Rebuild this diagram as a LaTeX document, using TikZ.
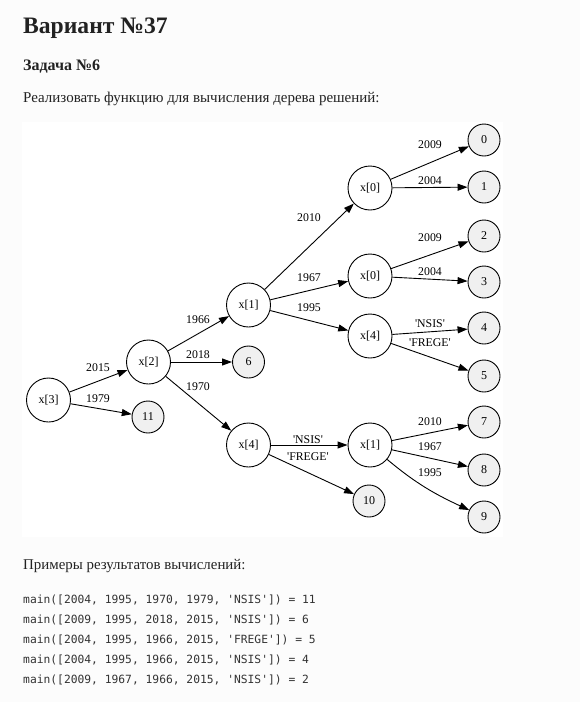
\documentclass[tikz,border=0pt]{standalone}
\usepackage{fontspec}
\setmainfont{Liberation Serif}
\setmonofont{DejaVu Sans Mono}
\newfontfamily\graphfont{Liberation Serif}
\usetikzlibrary{arrows.meta}
\definecolor{pagebg}{HTML}{FCFCFC}
\definecolor{leafgray}{HTML}{F0F0F0}
\definecolor{textdark}{HTML}{222222}
\definecolor{codegray}{HTML}{333333}
\newcommand{\quoted}[1]{\textquotesingle#1\textquotesingle}

\tikzset{
  test/.style={circle, draw, line width=0.9pt, minimum size=44pt, inner sep=0pt,
    font=\graphfont\fontsize{12}{12}\selectfont},
  leaf/.style={test, fill=leafgray, minimum size=32pt},
  lbl/.style={inner sep=0pt, font=\graphfont\fontsize{11.8}{12}\selectfont},
  branch/.style={-{Triangle[length=10pt,width=7pt]}, line width=0.9pt},
  page/.style={anchor=base west, inner sep=0pt, text=textdark}
}

\begin{document}
\begin{tikzpicture}[x=1pt, y=-1pt]
	\useasboundingbox (0,0) rectangle (580,702);
	\fill[pagebg] (0,0) rectangle (580,702);
	\fill[white] (22,122) rectangle (503,537);

	% page text
	\node[page, font=\bfseries\fontsize{23.6}{23.6}\selectfont] (title) at (23,33) {Вариант №37};
	\node[page, font=\bfseries\fontsize{16}{16}\selectfont] (task) at (23,70) {Задача №6};
	\node[page, font=\fontsize{15}{15}\selectfont] (intro) at (23,102) {Реализовать функцию для вычисления дерева решений:};
	\node[page, font=\fontsize{14.9}{14.9}\selectfont] (examples) at (23,569) {Примеры результатов вычислений:};

	% decision tree
	\node[test] (x3) at (48.5,400) {x[3]};
	\node[test] (x2) at (148.5,362) {x[2]};
	\node[leaf] (l11) at (148,417) {11};
	\node[leaf] (l6) at (248.5,362) {6};
	\node[test] (x1a) at (248.5,305) {x[1]};
	\node[test] (x4b) at (248.5,445) {x[4]};
	\node[test] (x0a) at (370,188) {x[0]};
	\node[test] (x0b) at (370,276) {x[0]};
	\node[test] (x4a) at (370,336) {x[4]};
	\node[test] (x1b) at (370,445) {x[1]};
	\node[leaf] (l10) at (369,501) {10};
	\node[leaf] (l0) at (484,140) {0};
	\node[leaf] (l1) at (484,187) {1};
	\node[leaf] (l2) at (484,236) {2};
	\node[leaf] (l3) at (484,282) {3};
	\node[leaf] (l4) at (484,328) {4};
	\node[leaf] (l5) at (484,376) {5};
	\node[leaf] (l7) at (484,422) {7};
	\node[leaf] (l8) at (484,470) {8};
	\node[leaf] (l9) at (484,517) {9};

	\draw[branch] (x3) -- (x2);
	\draw[branch] (x3) -- (l11);
	\draw[branch] (x2) -- (x1a);
	\draw[branch] (x2) -- (l6);
	\draw[branch] (x2) -- (x4b);
	\draw[branch] (x1a) -- (x0a);
	\draw[branch] (x1a) -- (x0b);
	\draw[branch] (x1a) -- (x4a);
	\draw[branch] (x0a) -- (l0);
	\draw[branch] (x0a) -- (l1);
	\draw[branch] (x0b) -- (l2);
	\draw[branch] (x0b) -- (l3);
	\draw[branch] (x4a) -- (l4);
	\draw[branch] (x4a) -- (l5);
	\draw[branch] (x4b) -- (x1b);
	\draw[branch] (x4b) -- (l10);
	\draw[branch] (x1b) -- (l7);
	\draw[branch] (x1b) -- (l8);
	\draw[branch] (x1b) to[out=-40, in=155] (l9);

	\node[lbl] at (98,368) {2015};
	\node[lbl] at (98,399) {1979};
	\node[lbl] at (198,320) {1966};
	\node[lbl] at (198,355) {2018};
	\node[lbl] at (198,387) {1970};
	\node[lbl] at (309,218) {2010};
	\node[lbl] at (309,278) {1967};
	\node[lbl] at (309,308) {1995};
	\node[lbl] at (430,145) {2009};
	\node[lbl] at (430,181) {2004};
	\node[lbl] at (430,238) {2009};
	\node[lbl] at (430,272) {2004};
	\node[lbl] at (430,324) {\quoted{NSIS}};
	\node[lbl] at (430,343) {\quoted{FREGE}};
	\node[lbl] at (308,440) {\quoted{NSIS}};
	\node[lbl] at (308,457) {\quoted{FREGE}};
	\node[lbl] at (430,422) {2010};
	\node[lbl] at (430,447) {1967};
	\node[lbl] at (430,473) {1995};

	% examples
	\foreach \code [count=\i] in {
		{main([2004, 1995, 1970, 1979, \quoted{NSIS}]) = 11},
		{main([2009, 1995, 2018, 2015, \quoted{NSIS}]) = 6},
		{main([2004, 1995, 1966, 2015, \quoted{FREGE}]) = 5},
		{main([2004, 1995, 1966, 2015, \quoted{NSIS}]) = 4},
		{main([2009, 1967, 1966, 2015, \quoted{NSIS}]) = 2}}
		\node[page, text=codegray, font=\ttfamily\fontsize{11.3}{11.3}\selectfont] (code\i) at (23,583+20*\i) {\code};
\end{tikzpicture}
\end{document}
